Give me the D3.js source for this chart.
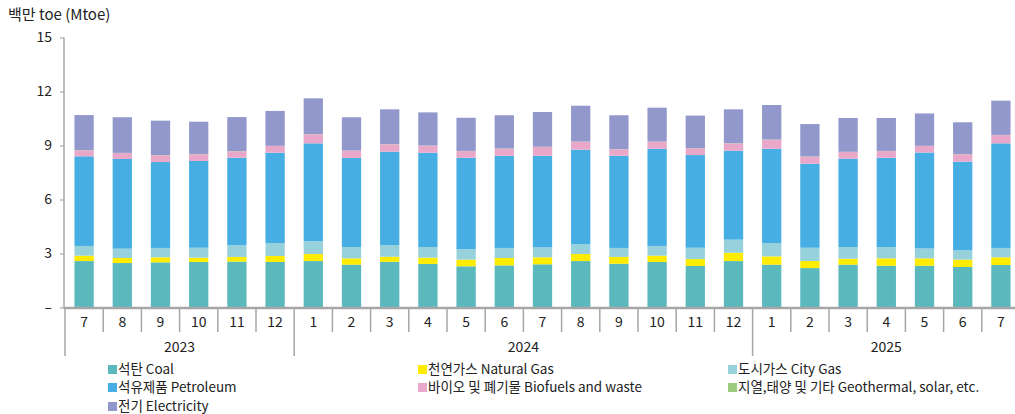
<!DOCTYPE html>
<html><head><meta charset="utf-8">
<script src="https://cdn.jsdelivr.net/npm/d3@7"></script>
<style>
body{margin:0;background:#fff;}
text{font-family:"Noto Sans CJK KR","Noto Sans",sans-serif;fill:#222;}
</style></head>
<body><svg id="c" width="1015" height="414"></svg>
<script>
const months = [7,8,9,10,11,12,1,2,3,4,5,6,7,8,9,10,11,12,1,2,3,4,5,6,7];
const years = [{label:"2023", start:0, end:6},{label:"2024", start:6, end:18},{label:"2025", start:18, end:25}];
const coal       = [2.58,2.47,2.51,2.53,2.55,2.53,2.58,2.38,2.54,2.42,2.29,2.34,2.40,2.58,2.43,2.53,2.31,2.58,2.38,2.19,2.38,2.32,2.32,2.25,2.36];
const naturalGas = [0.30,0.28,0.28,0.24,0.26,0.33,0.39,0.35,0.28,0.35,0.37,0.41,0.39,0.39,0.38,0.35,0.38,0.46,0.46,0.39,0.33,0.41,0.41,0.41,0.43];
const cityGas    = [0.54,0.52,0.52,0.55,0.66,0.72,0.72,0.63,0.65,0.59,0.59,0.56,0.55,0.54,0.50,0.54,0.63,0.73,0.73,0.74,0.65,0.63,0.55,0.52,0.52];
const petroleum  = [4.98,4.98,4.77,4.82,4.85,5.02,5.43,4.95,5.19,5.24,5.07,5.12,5.09,5.26,5.12,5.40,5.15,4.94,5.25,4.67,4.91,4.96,5.33,4.92,5.81];
const biofuels   = [0.33,0.33,0.38,0.37,0.36,0.37,0.50,0.40,0.41,0.39,0.37,0.39,0.49,0.44,0.36,0.39,0.37,0.41,0.50,0.39,0.37,0.37,0.36,0.41,0.46];
const geothermal = [0.01,0.01,0.01,0.01,0.01,0.01,0.01,0.01,0.01,0.01,0.01,0.01,0.01,0.01,0.01,0.01,0.01,0.01,0.01,0.01,0.01,0.01,0.01,0.01,0.01];
const electricity= [1.95,1.98,1.91,1.80,1.89,1.94,1.99,1.85,1.93,1.84,1.84,1.85,1.93,1.99,1.88,1.88,1.81,1.88,1.92,1.80,1.88,1.83,1.80,1.77,1.90];
const yTicks = [0,3,6,9,12,15];

const series = [
 {key:"coal", name:"석탄 Coal", color:"#5bb9be", values:coal},
 {key:"ng", name:"천연가스 Natural Gas", color:"#ffec00", values:naturalGas},
 {key:"city", name:"도시가스 City Gas", color:"#97d1dc", values:cityGas},
 {key:"pet", name:"석유제품 Petroleum", color:"#46aee2", values:petroleum},
 {key:"bio", name:"바이오 및 폐기물 Biofuels and waste", color:"#e9a8ca", values:biofuels},
 {key:"geo", name:"지열,태양 및 기타 Geothermal, solar, etc.", color:"#9dcb7e", values:geothermal},
 {key:"elec", name:"전기 Electricity", color:"#9298cb", values:electricity}
];

const rows = months.map((m,i)=>{const r={i}; series.forEach(s=>r[s.key]=s.values[i]); return r;});
const stack = d3.stack().keys(series.map(s=>s.key))(rows);

const svg = d3.select("#c");
const idx = d3.range(months.length);
const x = d3.scaleBand().domain(idx).range([65, 1020]).paddingInner(0.495).paddingOuter(0.2475);
const xCat = d3.scaleBand().domain(idx).range([65, 1020]).padding(0);
const y = d3.scaleLinear().domain([0,15]).range([307.5, 37.5]);

// title
svg.append("text").attr("x",8).attr("y",20).style("font-size","15px").text("백만 toe (Mtoe)");

// bars
svg.append("g").selectAll("g").data(stack).join("g")
  .attr("fill",(d,i)=>series[i].color)
  .selectAll("rect").data(d=>d).join("rect")
  .attr("x",d=>x(d.data.i)).attr("width",x.bandwidth())
  .attr("y",d=>y(d[1])).attr("height",d=>Math.max(0,y(d[0])-y(d[1])));

// y axis
const ya = svg.append("g").attr("transform","translate(64,0)")
  .call(d3.axisLeft(y).tickValues(yTicks).tickSize(4).tickPadding(8).tickFormat(d=>d===0?"–":d));
ya.select(".domain").attr("stroke","#a6a6a6").attr("stroke-width",1.5).attr("d","M0,37.5V308");
ya.selectAll(".tick line").attr("stroke","#a6a6a6").attr("stroke-width",1.2);
ya.selectAll(".tick text").style("font-size","14px").attr("fill","#222").style("font-family","'Noto Sans CJK KR',sans-serif");

// x axis
const xa = svg.append("g");
xa.append("line").attr("x1",64).attr("x2",1015).attr("y1",308).attr("y2",308).attr("stroke","#a6a6a6").attr("stroke-width",2.5);
const bounds = d3.range(months.length+1);
const yearStarts = new Set(years.map(d=>d.start).concat([0]));
xa.selectAll("line.t").data(bounds).join("line").attr("class","t")
  .attr("x1",i=>i<months.length?xCat(i):xCat(months.length-1)+xCat.step())
  .attr("x2",i=>i<months.length?xCat(i):xCat(months.length-1)+xCat.step())
  .attr("y1",308).attr("y2",i=>yearStarts.has(i)?356:332)
  .attr("stroke","#a6a6a6").attr("stroke-width",1.5);
xa.selectAll("text.m").data(months).join("text").attr("class","m")
  .attr("x",(m,i)=>xCat(i)+xCat.step()/2).attr("y",327).attr("text-anchor","middle")
  .style("font-size","14px").text(m=>m);
xa.selectAll("text.y").data(years).join("text").attr("class","y")
  .attr("x",d=>(xCat(d.start)+xCat(d.end-1)+xCat.step())/2).attr("y",352).attr("text-anchor","middle")
  .style("font-size","14px").text(d=>d.label);

// legend
const legPos = [[109,369],[419,369],[729,369],[109,387],[419,387],[729,387],[109,406]];
const order = [0,1,2,3,4,5,6];
const lg = svg.append("g");
order.forEach((si,k)=>{
  const [lx,ly]=legPos[k];
  lg.append("rect").attr("x",lx-1).attr("y",ly-4).attr("width",9).attr("height",9).attr("fill",series[si].color);
  lg.append("text").attr("x",lx+9).attr("y",ly+5).style("font-size","13.5px").text(series[si].name);
});
</script></body></html>
